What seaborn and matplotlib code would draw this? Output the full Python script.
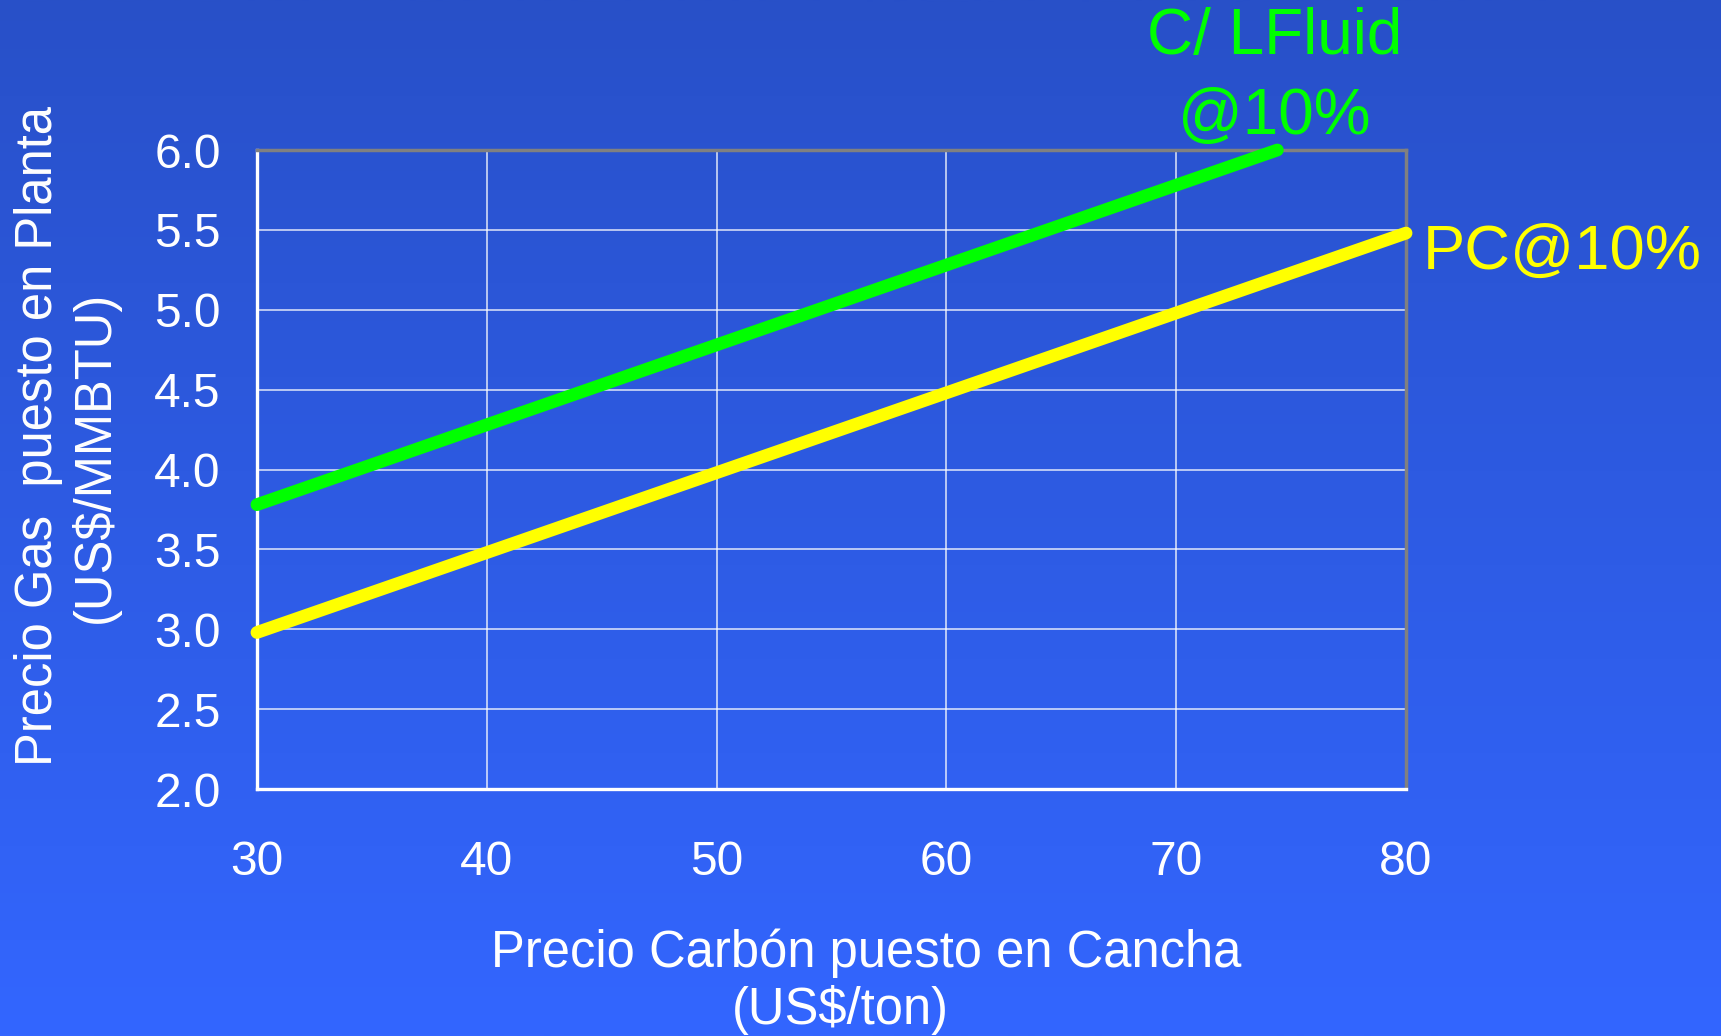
import matplotlib
matplotlib.use("Agg")
import matplotlib.pyplot as plt
from matplotlib.ticker import FormatStrFormatter
import numpy as np
import pandas as pd
import seaborn as sns

# Coal price at the yard (US$/ton) and resulting break-even gas price (US$/MMBTU)
pc_carbon = [30, 40, 50, 60, 70, 80]
pc_gas = [2.98, 3.48, 3.98, 4.48, 4.98, 5.48]
lf_carbon = [30, 40, 50, 60, 70, 74.4]
lf_gas = [3.78, 4.28, 4.78, 5.28, 5.78, 6.0]

series_pc = "PC@10%"
series_lf = "C/ LFluid\n@10%"
colors = {series_pc: "#ffff00", series_lf: "#00ff00"}

x_ticks = [30, 40, 50, 60, 70, 80]
y_ticks = [2.0, 2.5, 3.0, 3.5, 4.0, 4.5, 5.0, 5.5, 6.0]

df = pd.concat([
    pd.DataFrame({"carbon": pc_carbon, "gas": pc_gas, "serie": series_pc}),
    pd.DataFrame({"carbon": lf_carbon, "gas": lf_gas, "serie": series_lf}),
], ignore_index=True)

sns.set_style("white")
plt.rcParams["font.family"] = ["Liberation Sans", "DejaVu Sans"]

fig = plt.figure(figsize=(17.21, 10.36), dpi=100)

# vertical blue gradient background
bg = fig.add_axes([0, 0, 1, 1], zorder=0)
top = np.array([40, 80, 200]) / 255
bottom = np.array([51, 102, 255]) / 255
t = np.linspace(0, 1, 256)[:, None, None]
grad = top * (1 - t) + bottom * t
bg.imshow(grad, aspect="auto", extent=[0, 1, 0, 1], interpolation="bilinear")
bg.axis("off")

ax = fig.add_axes([0.1493, 0.2384, 0.6677, 0.6168], zorder=1)
ax.set_facecolor("none")

sns.lineplot(data=df, x="carbon", y="gas", hue="serie", palette=colors,
             legend=False, sort=True, ax=ax)
for line in ax.lines:
    line.set_linewidth(9.2)
    line.set_solid_capstyle("round")
    line.set_clip_on(False)
    line.set_zorder(5)

ax.set_xlim(30, 80)
ax.set_ylim(2.0, 6.0)
ax.set_xticks(x_ticks)
ax.set_yticks(y_ticks)
ax.yaxis.set_major_formatter(FormatStrFormatter("%.1f"))

ax.grid(True, color="white", linewidth=1.1, alpha=0.85, zorder=1)
ax.set_axisbelow(True)

for side in ("left", "bottom"):
    ax.spines[side].set_color("white")
    ax.spines[side].set_linewidth(2.4)
for side in ("top", "right"):
    ax.spines[side].set_color("#808080")
    ax.spines[side].set_linewidth(2.5)

ax.tick_params(axis="both", colors="white", labelsize=34.5, length=11,
               width=1, direction="out")
ax.tick_params(axis="x", pad=26)
ax.tick_params(axis="y", pad=15)

# axis titles
ax.set_xlabel("Precio Carbón puesto en Cancha", fontsize=36.5, color="white")
ax.xaxis.set_label_coords(0.530, -0.2175)
ax.text(0.508, -0.346, "(US$/ton)", transform=ax.transAxes, fontsize=36.5,
        color="white", ha="center", va="center")

ax.set_ylabel("Precio Gas  puesto en Planta", fontsize=36.5, color="white",
              va="center")
ax.yaxis.set_label_coords(-0.190, 0.553)
ax.text(-0.141, 0.519, "(US$/MMBTU)", transform=ax.transAxes, fontsize=36.5,
        color="white", ha="center", va="center", rotation=90)

# series labels at the end of each line
ax.annotate(series_lf, xy=(lf_carbon[-1], lf_gas[-1]), xytext=(-2, 2),
            textcoords="offset points", ha="center", va="bottom",
            fontsize=46, color=colors[series_lf], linespacing=1.42,
            annotation_clip=False)
ax.annotate(series_pc, xy=(pc_carbon[-1], pc_gas[-1]), xytext=(12, -26),
            textcoords="offset points", ha="left", va="baseline",
            fontsize=45.5, color=colors[series_pc], annotation_clip=False)

fig.savefig("out.png", dpi=100)
